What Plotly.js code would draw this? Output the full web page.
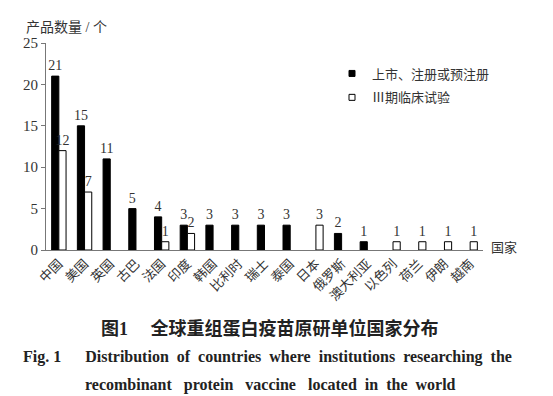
<!DOCTYPE html>
<html>
<head>
<meta charset="utf-8">
<script src="https://cdn.plot.ly/plotly-3.0.1.min.js"></script>
<style>html,body{margin:0;padding:0;background:#fff;}#chart{width:553px;height:396px;}</style>
</head>
<body>
<div id="chart"></div>
<script>
const categories = ['中国','美国','英国','古巴','法国','印度','韩国','比利时','瑞士','泰国','日本','俄罗斯','澳大利亚','以色列','荷兰','伊朗','越南'];
const marketed = [21,15,11,5,4,3,3,3,3,3,null,2,1,null,null,null,null];
const phase3 = [12,7,null,null,1,2,null,null,null,null,3,null,null,1,1,1,1];
const seriesNames = ['上市、注册或预注册','Ⅲ期临床试验'];
const yTicks = [0,5,10,15,20,25];

const SERIF = '"Liberation Serif", "Noto Sans CJK SC", serif';
const CJK = '"Liberation Serif", "Noto Sans CJK SC", sans-serif';
const TXT = '#333';

function labels(arr){ return arr.map(v => v == null ? '' : String(v)); }

const barCommon = {
  type: 'bar', x: categories, textposition: 'outside', cliponaxis: false,
  constraintext: 'none', textfont: {family: SERIF, size: 14, color: TXT},
  showlegend: false, hoverinfo: 'x+y'
};

const data = [
  Object.assign({}, barCommon, {name: seriesNames[0], y: marketed, text: labels(marketed),
    marker: {color: '#000', line: {color: '#000', width: 1}}}),
  Object.assign({}, barCommon, {name: seriesNames[1], y: phase3, text: labels(phase3),
    marker: {color: '#fff', line: {color: '#000', width: 1}}}),
  {type: 'scatter', mode: 'markers', x: [null], y: [null], name: seriesNames[0], legendgroup: 'a',
    marker: {symbol: 'square', size: 6, color: '#000', line: {color: '#000', width: 1}}, hoverinfo: 'skip'},
  {type: 'scatter', mode: 'markers', x: [null], y: [null], name: seriesNames[1], legendgroup: 'b',
    marker: {symbol: 'square', size: 6, color: '#fff', line: {color: '#000', width: 1}}, hoverinfo: 'skip'}
];

const px = v => (v - 46) / 437;
const py = v => (250 - v) / 207;

const layout = {
  width: 553, height: 396,
  margin: {l: 46, r: 70, t: 43, b: 146, pad: 0},
  paper_bgcolor: '#fff', plot_bgcolor: '#fff',
  barmode: 'group', bargap: 0.44, bargroupgap: 0,
  font: {family: CJK, color: TXT},
  xaxis: {
    type: 'category', showline: true, linecolor: '#777', linewidth: 1,
    ticks: '', tickangle: -45, tickfont: {family: CJK, size: 13, color: TXT},
    showgrid: false, zeroline: false, fixedrange: true
  },
  yaxis: {
    range: [0, 25], tickvals: yTicks, ticktext: yTicks.map(String),
    showline: true, linecolor: '#777', linewidth: 1,
    ticks: 'outside', ticklen: 4, tickcolor: '#777',
    tickfont: {family: SERIF, size: 15, color: TXT},
    showgrid: false, zeroline: false, fixedrange: true
  },
  legend: {
    x: px(332), y: py(58.5), xanchor: 'left', yanchor: 'top',
    font: {family: CJK, size: 13, color: TXT}, bgcolor: 'rgba(0,0,0,0)',
    itemwidth: 30, traceorder: 'grouped', tracegroupgap: 4
  },
  showlegend: true,
  annotations: [
    {xref: 'paper', yref: 'paper', x: px(24), y: py(27), xanchor: 'left', yanchor: 'middle',
      text: '产品数量 / 个', showarrow: false, font: {family: CJK, size: 14, color: TXT}},
    {xref: 'paper', yref: 'paper', x: px(489), y: py(247), xanchor: 'left', yanchor: 'middle',
      text: '国家', showarrow: false, font: {family: CJK, size: 13, color: TXT}},
    {xref: 'paper', yref: 'paper', x: px(270), y: py(328), xanchor: 'center', yanchor: 'middle',
      text: '<b>图1</b>&nbsp;&nbsp;&nbsp;&nbsp; <b>全球重组蛋白疫苗原研单位国家分布</b>', showarrow: false,
      font: {family: CJK, size: 18, color: '#222'}},
    {xref: 'paper', yref: 'paper', x: px(267), y: py(357), xanchor: 'center', yanchor: 'middle',
      text: '<b>Fig. 1&nbsp;&nbsp;&nbsp;&nbsp;&nbsp; Distribution&nbsp; of&nbsp; countries&nbsp; where&nbsp; institutions&nbsp; researching&nbsp; the</b>', showarrow: false,
      font: {family: SERIF, size: 16, color: '#222'}},
    {xref: 'paper', yref: 'paper', x: px(270), y: py(385), xanchor: 'center', yanchor: 'middle',
      text: '<b>recombinant&nbsp;&nbsp; protein&nbsp;&nbsp; vaccine&nbsp;&nbsp; located&nbsp; in&nbsp; the&nbsp; world</b>', showarrow: false,
      font: {family: SERIF, size: 16, color: '#222'}}
  ]
};

Plotly.newPlot('chart', data, layout, {displayModeBar: false, staticPlot: true});
</script>
</body>
</html>
